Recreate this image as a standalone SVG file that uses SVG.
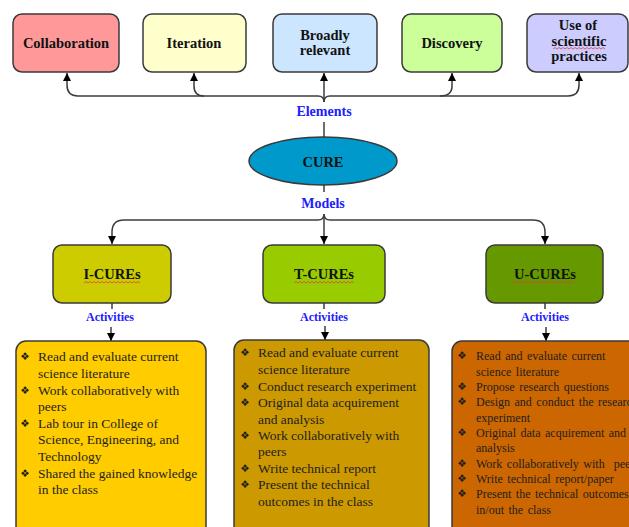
<svg xmlns="http://www.w3.org/2000/svg" width="629" height="527" viewBox="0 0 629 527">
<style>
.box{stroke:#3a3a3a;stroke-width:1.5}
.lbl{font-family:"Liberation Serif","Times New Roman",serif;font-weight:bold;font-size:14.5px;fill:#111;text-anchor:middle}
.blue{font-family:"Liberation Serif","Times New Roman",serif;font-weight:bold;fill:#2020ff;text-anchor:middle}
.conn{fill:none;stroke:#3c3c3c;stroke-width:1.5}
.act{font-family:"Liberation Serif","Times New Roman",serif;font-size:13.5px;fill:#1e1e1e}
.actr{font-family:"Liberation Serif","Times New Roman",serif;font-size:12px;fill:#1e1e1e;word-spacing:1.5px}
.bul{font-family:"DejaVu Sans",sans-serif;font-size:10.5px;fill:#1e1e1e;text-anchor:middle}
.sq{fill:none;stroke:#e04040;stroke-width:0.8}
</style>
<defs>
<marker id="ah" viewBox="0 0 10 10" refX="10" refY="5" markerWidth="8" markerHeight="8" markerUnits="userSpaceOnUse" orient="auto">
<path d="M0,0 L10,5 L0,10 z" fill="#000"/>
</marker>
</defs>
<rect width="629" height="527" fill="#fff"/>

<g id="connectors">
<path class="conn" d="M78,96 H318 Q324,96 324,102 Q324,96 330,96 H568"/>
<path class="conn" d="M78,96 Q67,96 67,85 V73" marker-end="url(#ah)"/>
<path class="conn" d="M204,96 Q194,96 194,86 V73" marker-end="url(#ah)"/>
<path class="conn" d="M324,102 V73" marker-end="url(#ah)"/>
<path class="conn" d="M440,96 Q452,96 452,86 V73" marker-end="url(#ah)"/>
<path class="conn" d="M568,96 Q579,96 579,85 V73" marker-end="url(#ah)"/>
<path class="conn" d="M324,122 V137"/>
<path class="conn" d="M324,185 V192"/>
<path class="conn" d="M124,220 H318 Q324,220 324,214 Q324,220 330,220 H533"/>
<path class="conn" d="M124,220 Q112,220 112,232 V244" marker-end="url(#ah)"/>
<path class="conn" d="M324,214 V244" marker-end="url(#ah)"/>
<path class="conn" d="M533,220 Q545,220 545,232 V244" marker-end="url(#ah)"/>
<path class="conn" d="M112,303 V309"/>
<path class="conn" d="M324,303 V309"/>
<path class="conn" d="M545,303 V309"/>
<path class="conn" d="M111,327 V341" marker-end="url(#ah)"/>
<path class="conn" d="M325,326 V340" marker-end="url(#ah)"/>
<path class="conn" d="M546,327 V341" marker-end="url(#ah)"/>
</g>

<g id="collaboration">
<rect class="box" x="13" y="14" width="106" height="58" rx="9" fill="#ff9999"/>
<text class="lbl" x="66" y="48">Collaboration</text>
</g>
<g id="iteration">
<rect class="box" x="143" y="14" width="103" height="58" rx="9" fill="#ffffcc"/>
<text class="lbl" x="194" y="48">Iteration</text>
</g>
<g id="broadly-relevant">
<rect class="box" x="273" y="14" width="104" height="58" rx="9" fill="#cce6ff"/>
<text class="lbl" x="325" y="40">Broadly</text>
<text class="lbl" x="325" y="55">relevant</text>
</g>
<g id="discovery">
<rect class="box" x="402" y="14" width="100" height="58" rx="9" fill="#ccff99"/>
<text class="lbl" x="452" y="48">Discovery</text>
</g>
<g id="use-of-scientific-practices">
<rect class="box" x="527" y="14" width="101" height="58" rx="9" fill="#ccccff"/>
<text class="lbl" x="578" y="30">Use of</text>
<text class="lbl" x="579" y="46">scientific</text>
<text class="lbl" x="579" y="61">practices</text>
<path class="sq" d="M553,49 l2,-1.5 l2,1.5 l2,-1.5 l2,1.5 l2,-1.5 l2,1.5 l2,-1.5 l2,1.5 l2,-1.5 l2,1.5 l2,-1.5 l2,1.5 l2,-1.5 l2,1.5 l2,-1.5 l2,1.5 l2,-1.5 l2,1.5 l2,-1.5 l2,1.5 l2,-1.5 l2,1.5 l2,-1.5 l2,1.5 l2,-1.5 l2,1.5"/>
</g>

<g id="elements-label">
<text class="blue" x="324" y="116" font-size="14px">Elements</text>
</g>

<g id="cure">
<ellipse class="box" cx="323" cy="161" rx="74" ry="24" fill="#0099cc"/>
<text class="lbl" x="323" y="167">CURE</text>
</g>

<g id="models-label">
<text class="blue" x="323" y="208" font-size="14px">Models</text>
</g>

<g id="i-cures">
<rect class="box" x="53" y="245" width="118" height="58" rx="9" fill="#cccc00"/>
<text class="lbl" x="112" y="279">I-CUREs</text>
<path class="sq" d="M84,283 l2,-1.5 l2,1.5 l2,-1.5 l2,1.5 l2,-1.5 l2,1.5 l2,-1.5 l2,1.5 l2,-1.5 l2,1.5 l2,-1.5 l2,1.5 l2,-1.5 l2,1.5 l2,-1.5 l2,1.5 l2,-1.5 l2,1.5 l2,-1.5 l2,1.5 l2,-1.5 l2,1.5 l2,-1.5 l2,1.5 l2,-1.5 l2,1.5 l2,-1.5 l2,1.5"/>
</g>
<g id="t-cures">
<rect class="box" x="263" y="245" width="122" height="58" rx="9" fill="#99cc00"/>
<text class="lbl" x="324" y="279">T-CUREs</text>
<path class="sq" d="M294,283 l2,-1.5 l2,1.5 l2,-1.5 l2,1.5 l2,-1.5 l2,1.5 l2,-1.5 l2,1.5 l2,-1.5 l2,1.5 l2,-1.5 l2,1.5 l2,-1.5 l2,1.5 l2,-1.5 l2,1.5 l2,-1.5 l2,1.5 l2,-1.5 l2,1.5 l2,-1.5 l2,1.5 l2,-1.5 l2,1.5 l2,-1.5 l2,1.5 l2,-1.5 l2,1.5 l2,-1.5 l2,1.5"/>
</g>
<g id="u-cures">
<rect class="box" x="486" y="245" width="117" height="58" rx="9" fill="#669900"/>
<text class="lbl" x="545" y="279">U-CUREs</text>
<path class="sq" d="M513,283 l2,-1.5 l2,1.5 l2,-1.5 l2,1.5 l2,-1.5 l2,1.5 l2,-1.5 l2,1.5 l2,-1.5 l2,1.5 l2,-1.5 l2,1.5 l2,-1.5 l2,1.5 l2,-1.5 l2,1.5 l2,-1.5 l2,1.5 l2,-1.5 l2,1.5 l2,-1.5 l2,1.5 l2,-1.5 l2,1.5 l2,-1.5 l2,1.5 l2,-1.5 l2,1.5 l2,-1.5 l2,1.5"/>
</g>

<g id="activities-labels">
<text class="blue" x="110" y="321" font-size="12px">Activities</text>
<text class="blue" x="324" y="321" font-size="12px">Activities</text>
<text class="blue" x="545" y="321" font-size="12px">Activities</text>
</g>

<g id="i-cures-activities">
<rect class="box" x="16" y="341" width="190" height="200" rx="10" fill="#ffcc00"/>
<text class="bul" x="25" y="360">❖</text>
<text class="act" x="38" y="361">Read and evaluate current</text>
<text class="act" x="38" y="378">science literature</text>
<text class="bul" x="25" y="394">❖</text>
<text class="act" x="38" y="395">Work collaboratively with</text>
<text class="act" x="38" y="411">peers</text>
<text class="bul" x="25" y="427">❖</text>
<text class="act" x="38" y="428">Lab tour in College of</text>
<text class="act" x="38" y="444">Science, Engineering, and</text>
<text class="act" x="38" y="461">Technology</text>
<text class="bul" x="25" y="477">❖</text>
<text class="act" x="38" y="478">Shared the gained knowledge</text>
<text class="act" x="38" y="494">in the class</text>
</g>

<g id="t-cures-activities">
<rect class="box" x="234" y="340" width="195" height="200" rx="10" fill="#cc9900"/>
<text class="bul" x="245" y="356">❖</text>
<text class="act" x="258" y="357">Read and evaluate current</text>
<text class="act" x="258" y="374">science literature</text>
<text class="bul" x="245" y="390">❖</text>
<text class="act" x="258" y="391">Conduct research experiment</text>
<text class="bul" x="245" y="406">❖</text>
<text class="act" x="258" y="407">Original data acquirement</text>
<text class="act" x="258" y="424">and analysis</text>
<text class="bul" x="245" y="439">❖</text>
<text class="act" x="258" y="440">Work collaboratively with</text>
<text class="act" x="258" y="456">peers</text>
<text class="bul" x="245" y="472">❖</text>
<text class="act" x="258" y="473">Write technical report</text>
<text class="bul" x="245" y="488">❖</text>
<text class="act" x="258" y="489">Present the technical</text>
<text class="act" x="258" y="506">outcomes in the class</text>
</g>

<g id="u-cures-activities">
<rect class="box" x="452" y="341" width="200" height="200" rx="10" fill="#cc6600"/>
<text class="bul" x="462" y="359">❖</text>
<text class="actr" x="476" y="360">Read and evaluate current</text>
<text class="actr" x="476" y="376">science literature</text>
<text class="bul" x="462" y="390">❖</text>
<text class="actr" x="476" y="391">Propose research questions</text>
<text class="bul" x="462" y="405">❖</text>
<text class="actr" x="476" y="406">Design and conduct the research</text>
<text class="actr" x="476" y="422">experiment</text>
<text class="bul" x="462" y="436">❖</text>
<text class="actr" x="476" y="437">Original data acquirement and</text>
<text class="actr" x="476" y="452">analysis</text>
<text class="bul" x="462" y="467">❖</text>
<text class="actr" x="476" y="468" xml:space="preserve">Work collaboratively with  peers</text>
<text class="bul" x="462" y="482">❖</text>
<text class="actr" x="476" y="483">Write technical report/paper</text>
<text class="bul" x="462" y="497">❖</text>
<text class="actr" x="476" y="498">Present the technical outcomes</text>
<text class="actr" x="476" y="514">in/out the class</text>
</g>
</svg>
